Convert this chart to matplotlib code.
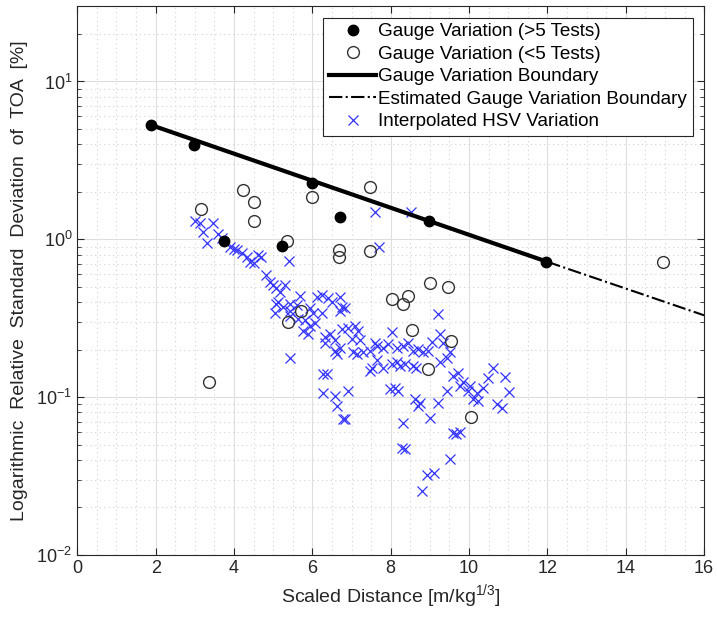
import matplotlib
matplotlib.use('Agg')
import matplotlib.pyplot as plt
from matplotlib.ticker import MultipleLocator, LogLocator, NullFormatter
import numpy as np

plt.rcParams['font.family'] = ['Liberation Sans', 'DejaVu Sans']
plt.rcParams['mathtext.fontset'] = 'custom'
plt.rcParams['mathtext.rm'] = 'Liberation Sans'
plt.rcParams['mathtext.it'] = 'Liberation Sans:italic'

# gauge variation, more than 5 tests
many_x = [1.88, 2.98, 3.75, 5.23, 6.00, 6.70, 8.98, 11.97]
many_y = [5.3, 3.95, 0.97, 0.91, 2.27, 1.39, 1.30, 0.72]

# gauge variation, fewer than 5 tests
few_x = [3.16, 4.24, 4.50, 4.50, 5.35, 5.98, 6.69, 6.69, 7.47, 7.47, 14.95, 9.00,
         9.46, 8.03, 8.45, 8.32, 5.39, 5.71, 3.36, 8.54, 9.53, 8.96, 10.04]
few_y = [1.55, 2.05, 1.72, 1.31, 0.975, 1.86, 0.85, 0.77, 2.15, 0.84, 0.72, 0.53,
         0.50, 0.42, 0.44, 0.39, 0.30, 0.35, 0.125, 0.267, 0.228, 0.151, 0.075]

# boundary lines
bound_x = [1.88, 12.0]
bound_y = [5.3, 0.72]
est_x = [12.0, 16.0]
est_y = [0.72, 0.33]

# interpolated HSV variation
hsv_x = [3.00, 3.13, 3.21, 3.31, 3.46, 3.59, 3.69, 3.90, 4.00, 4.08,
         4.20, 4.33, 4.41, 4.51, 4.61, 4.69, 4.82, 4.92, 5.00, 5.07,
         5.12, 5.40, 5.30, 5.18, 5.07, 5.25, 5.43, 5.61, 5.69, 6.12,
         6.25, 6.40, 6.50, 6.71, 6.76, 6.83, 5.94, 6.02, 6.25, 7.60,
         8.52, 7.70, 5.05, 5.43, 5.63, 5.81, 5.94, 6.07, 6.71, 5.76,
         5.89, 6.32, 6.45, 6.58, 6.76, 6.91, 7.09, 7.17, 7.01, 7.22,
         6.71, 6.58, 6.32, 7.04, 7.14, 7.29, 7.47, 7.60, 7.47, 5.43,
         6.27, 6.37, 6.27, 6.58, 6.63, 6.91, 6.83, 6.63, 9.21, 8.03,
         7.65, 7.80, 7.93, 8.16, 8.32, 8.44, 8.57, 8.70, 8.83, 8.95,
         9.06, 9.26, 9.34, 9.52, 9.44, 9.26, 7.65, 7.80, 8.03, 8.16,
         8.24, 8.37, 8.57, 7.52, 9.72, 9.59, 9.85, 10.03, 9.97, 10.20,
         10.36, 10.10, 10.23, 8.11, 8.19, 9.44, 8.62, 8.75, 9.21, 9.77,
         10.49, 10.61, 10.92, 11.02, 10.72, 10.84, 8.65, 7.98, 6.78, 8.32,
         8.29, 8.37, 9.00, 9.59, 9.67, 9.77, 9.52, 8.93, 9.11, 8.80,
         8.70, 5.43]
hsv_y = [1.30, 1.26, 1.11, 0.943, 1.26, 1.08, 1.02, 0.890, 0.864, 0.852,
         0.815, 0.769, 0.714, 0.705, 0.791, 0.769, 0.591, 0.533, 0.511, 0.489,
         0.398, 0.725, 0.511, 0.461, 0.392, 0.370, 0.354, 0.381, 0.435, 0.428,
         0.441, 0.422, 0.398, 0.428, 0.370, 0.365, 0.365, 0.339, 0.339, 1.48,
         1.48, 0.890, 0.339, 0.329, 0.315, 0.306, 0.284, 0.293, 0.354, 0.264,
         0.253, 0.239, 0.253, 0.229, 0.272, 0.276, 0.284, 0.264, 0.235, 0.229,
         0.206, 0.197, 0.219, 0.192, 0.189, 0.192, 0.197, 0.219, 0.147, 0.178,
         0.141, 0.141, 0.107, 0.102, 0.0883, 0.110, 0.0730, 0.189, 0.334, 0.257,
         0.212, 0.206, 0.216, 0.206, 0.212, 0.219, 0.197, 0.203, 0.192, 0.197,
         0.222, 0.253, 0.219, 0.192, 0.178, 0.166, 0.171, 0.154, 0.163, 0.166,
         0.158, 0.163, 0.158, 0.152, 0.143, 0.137, 0.124, 0.118, 0.110, 0.107,
         0.115, 0.0978, 0.0950, 0.115, 0.110, 0.110, 0.0978, 0.0923, 0.0923, 0.117,
         0.133, 0.154, 0.135, 0.108, 0.0910, 0.0858, 0.152, 0.113, 0.0730, 0.0689,
         0.0478, 0.0471, 0.0741, 0.0595, 0.0587, 0.0604, 0.0407, 0.0322, 0.0332, 0.0255,
         0.0875, 0.392]

fig = plt.figure(figsize=(7.17, 6.17), dpi=100)
ax = fig.add_axes([0.1078, 0.1005, 0.8742, 0.8895])

axcol = '#262626'
ax.plot(many_x, many_y, 'o', color='black', markersize=7.5, zorder=4,
        label='Gauge Variation (>5 Tests)')
ax.plot(few_x, few_y, 'o', markerfacecolor='none', markeredgecolor='#333333',
        markeredgewidth=1.0, markersize=8.5, zorder=3,
        label='Gauge Variation (<5 Tests)')
ax.plot(bound_x, bound_y, '-', color='black', linewidth=3, zorder=3,
        label='Gauge Variation Boundary')
ax.plot(est_x, est_y, '-.', color='black', linewidth=1.5, zorder=3,
        label='Estimated Gauge Variation Boundary')
ax.plot(hsv_x, hsv_y, 'x', color='#3333ff', markersize=6.5, markeredgewidth=0.9,
        zorder=2, label='Interpolated HSV Variation')

ax.set_yscale('log')
ax.set_xlim(0, 16)
ax.set_ylim(0.01, 30)
ax.xaxis.set_major_locator(MultipleLocator(2))
ax.xaxis.set_minor_locator(MultipleLocator(0.5))
ax.yaxis.set_major_locator(LogLocator(base=10, numticks=10))
ax.yaxis.set_minor_locator(LogLocator(base=10, subs=np.arange(2, 10), numticks=20))
ax.yaxis.set_minor_formatter(NullFormatter())

ax.grid(True, which='major', color='#dedede', linewidth=0.8, linestyle='-')
ax.grid(True, which='minor', color='#d4d4d4', linewidth=0.8, linestyle=(0, (1, 3)))
ax.set_axisbelow(True)

ax.tick_params(which='both', direction='in', top=True, right=True, colors=axcol,
               labelsize=13, labelcolor=axcol)
ax.tick_params(which='major', length=5, width=0.8)
ax.tick_params(which='minor', length=3, width=0.6)
ax.tick_params(axis='x', which='minor', length=0)
for sp in ax.spines.values():
    sp.set_color(axcol)
    sp.set_linewidth(0.8)

ax.set_xlabel('Scaled Distance [m/kg$^{1/3}$]', fontsize=14, color=axcol, labelpad=4)
ax.set_ylabel('Logarithmic  Relative  Standard  Deviation  of  TOA  [%]', fontsize=14,
              color=axcol, labelpad=6)

leg = ax.legend(loc='upper right', fontsize=13.6, frameon=True, fancybox=False,
                framealpha=1, edgecolor=axcol, borderaxespad=0.6,
                labelspacing=0.28, handlelength=2.5, handletextpad=0.1,
                borderpad=0.3)
leg.get_frame().set_linewidth(0.8)

fig.savefig('out.png', dpi=100)
